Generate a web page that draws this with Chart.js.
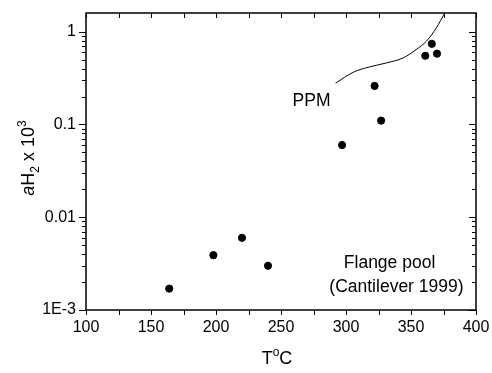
<!DOCTYPE html>
<html>
<head>
<meta charset="utf-8">
<script src="https://cdn.jsdelivr.net/npm/chart.js@4.4.0/dist/chart.umd.min.js"></script>
<style>
  html, body { margin: 0; padding: 0; background: #fff; }
</style>
</head>
<body>
<canvas id="chart" width="492" height="373"></canvas>
<script>
// Flange pool measurements (Cantilever 1999)
const tempC = [164, 198, 220, 240, 297, 322, 327, 361, 366, 370];
const aH2 = [0.0017, 0.0039, 0.006, 0.003, 0.06, 0.26, 0.11, 0.55, 0.74, 0.58];

// PPM curve
const ppmTemp = [292, 305.5, 318, 331, 344, 354, 362, 369.5, 376];
const ppmAH2 = [0.279, 0.365, 0.417, 0.46, 0.522, 0.642, 0.793, 1.1, 1.59];

const xMin = 100, xMax = 400, xStep = 50, xMinorStep = 25;
const yMin = 0.001, yMax = 1.59;
const yDecades = [0.001, 0.01, 0.1, 1];
const yTickLabels = ['1E-3', '0.01', '0.1', '1'];

const FONT = '"Liberation Sans", Arial, sans-serif';

const framePlugin = {
  id: 'frame',
  afterDraw(chart) {
    const ctx = chart.ctx;
    const a = chart.chartArea;
    const xs = chart.scales.x, ys = chart.scales.y;
    ctx.save();
    ctx.strokeStyle = '#000';
    ctx.fillStyle = '#000';

    // frame
    ctx.lineWidth = 1.5;
    ctx.strokeRect(a.left, a.top, a.right - a.left, a.bottom - a.top);

    // x ticks: outside at bottom, inside at top
    ctx.lineWidth = 1;
    ctx.beginPath();
    for (let t = xMin; t <= xMax; t += xMinorStep) {
      const px = Math.round(xs.getPixelForValue(t)) + 0.5;
      ctx.moveTo(px, a.bottom); ctx.lineTo(px, a.bottom + 5);
      ctx.moveTo(px, a.top); ctx.lineTo(px, a.top + 5);
    }
    // y ticks: outside on left, inside on right (log minor ticks)
    yDecades.forEach(d => {
      for (let m = 1; m <= 9; m++) {
        const v = d * m;
        if (v > yMax) break;
        const py = Math.round(ys.getPixelForValue(v)) + 0.5;
        const len = m === 1 ? 7 : 4;
        ctx.moveTo(a.left - len, py); ctx.lineTo(a.left, py);
        ctx.moveTo(a.right, py); ctx.lineTo(a.right - len, py);
      }
    });
    ctx.stroke();

    // annotations
    ctx.font = '17.5px ' + FONT;
    ctx.textAlign = 'center';
    ctx.textBaseline = 'middle';
    ctx.fillText('PPM', xs.getPixelForValue(273.5), ys.getPixelForValue(0.179));
    ctx.fillText('Flange pool', xs.getPixelForValue(333.5), ys.getPixelForValue(0.0032));
    ctx.fillText('(Cantilever 1999)', xs.getPixelForValue(338.8), ys.getPixelForValue(0.00175));

    // x axis title: T°C
    drawPieces(ctx, 277, 358, 0, [
      { t: 'T', size: 18 },
      { t: 'o', size: 12, dy: -8 },
      { t: 'C', size: 18 }
    ]);
    // y axis title: aH2 x 10^3
    drawPieces(ctx, 28, 158, -Math.PI / 2, [
      { t: 'a', size: 18, italic: true },
      { t: 'H', size: 18 },
      { t: '2', size: 12, dy: 5 },
      { t: ' x 10', size: 18 },
      { t: '3', size: 12, dy: -8 }
    ]);
    ctx.restore();
  }
};

function drawPieces(ctx, cx, cy, rot, pieces) {
  let total = 0;
  pieces.forEach(p => {
    ctx.font = (p.italic ? 'italic ' : '') + p.size + 'px ' + FONT;
    p.w = ctx.measureText(p.t).width;
    total += p.w;
  });
  ctx.save();
  ctx.translate(cx, cy);
  ctx.rotate(rot);
  ctx.textAlign = 'left';
  ctx.textBaseline = 'alphabetic';
  let x = -total / 2;
  pieces.forEach(p => {
    ctx.font = (p.italic ? 'italic ' : '') + p.size + 'px ' + FONT;
    ctx.fillText(p.t, x, 6 + (p.dy || 0));
    x += p.w;
  });
  ctx.restore();
}

new Chart(document.getElementById('chart'), {
  type: 'scatter',
  data: {
    datasets: [
      {
        label: 'Flange pool',
        data: tempC.map((t, i) => ({ x: t, y: aH2[i] })),
        backgroundColor: '#000',
        borderColor: '#000',
        pointRadius: 3.6,
        pointHoverRadius: 3.6
      },
      {
        type: 'line',
        label: 'PPM',
        data: ppmTemp.map((t, i) => ({ x: t, y: ppmAH2[i] })),
        borderColor: '#000',
        borderWidth: 1,
        pointRadius: 0,
        fill: false,
        cubicInterpolationMode: 'monotone'
      }
    ]
  },
  options: {
    responsive: false,
    animation: false,
    layout: { padding: { top: 13, right: 16, left: 0, bottom: 0 } },
    plugins: { legend: { display: false }, tooltip: { enabled: false } },
    scales: {
      x: {
        type: 'linear',
        min: xMin,
        max: xMax,
        grid: { display: false, drawTicks: false },
        border: { display: false },
        ticks: { stepSize: xStep, color: '#000', padding: 8, font: { family: FONT, size: 16 }, maxRotation: 0, autoSkip: false },
        afterFit: (scale) => {
          scale.height = 63;
          scale.paddingLeft = 0; scale.paddingRight = 0;
        }
      },
      y: {
        type: 'logarithmic',
        min: yMin,
        max: yMax,
        grid: { display: false, drawTicks: false },
        border: { display: false },
        ticks: {
          color: '#000',
          padding: 10,
          font: { family: FONT, size: 16 },
          autoSkip: false,
          callback: (v) => {
            const i = yDecades.findIndex(d => Math.abs(d - v) < d * 1e-6);
            return i >= 0 ? yTickLabels[i] : '';
          }
        },
        afterBuildTicks: (scale) => { scale.ticks = yDecades.map(v => ({ value: v })); },
        afterFit: (scale) => {
          scale.width = 86;
          scale.paddingTop = 0; scale.paddingBottom = 0;
        }
      }
    }
  },
  plugins: [framePlugin]
});
</script>
</body>
</html>
